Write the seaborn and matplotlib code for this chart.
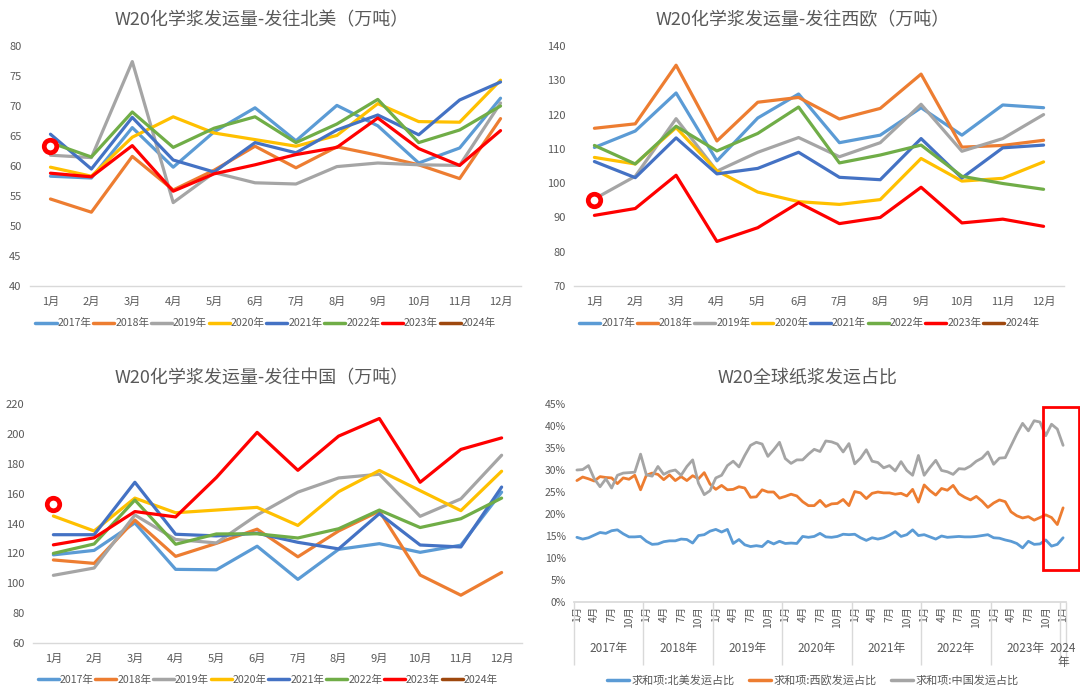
import pandas as pd
import matplotlib
matplotlib.use("Agg")
import matplotlib.pyplot as plt
import matplotlib.transforms as mtransforms
from matplotlib.lines import Line2D
from matplotlib.patches import Rectangle
from matplotlib.ticker import PercentFormatter, MultipleLocator
import seaborn as sns

# ==========================================
# Data
# ==========================================
months = ["1月", "2月", "3月", "4月", "5月", "6月",
          "7月", "8月", "9月", "10月", "11月", "12月"]
years = ["2017年", "2018年", "2019年", "2020年",
         "2021年", "2022年", "2023年", "2024年"]
year_colors = ["#5B9BD5", "#ED7D31", "#A5A5A5", "#FFC000",
               "#4472C4", "#70AD47", "#FF0000", "#9E480E"]

# 发往北美 (万吨), 2017 .. 2023
north_america = [
    [58.3, 58.0, 66.4, 59.8, 65.7, 69.7, 64.2, 70.1, 66.7, 60.5, 63.0, 71.3],
    [54.5, 52.3, 61.6, 56.0, 59.3, 63.3, 59.7, 63.2, 61.8, 60.2, 57.9, 67.9],
    [61.8, 61.4, 77.4, 53.9, 58.9, 57.2, 57.0, 59.9, 60.5, 60.2, 60.1, 70.5],
    [59.8, 58.3, 64.8, 68.2, 65.5, 64.4, 63.3, 65.1, 70.4, 67.4, 67.3, 74.3],
    [65.3, 59.5, 68.1, 61.0, 59.0, 63.9, 62.2, 66.0, 68.5, 65.2, 71.0, 74.0],
    [63.9, 61.5, 69.0, 63.1, 66.3, 68.2, 63.9, 67.0, 71.1, 63.9, 66.0, 70.0],
    [58.8, 58.2, 63.4, 55.8, 58.7, 60.2, 61.9, 63.1, 68.0, 62.9, 60.1, 65.9],
]
north_america_2024 = [63.4]

# 发往西欧 (万吨)
west_europe = [
    [110.4, 115.2, 126.3, 106.5, 119.0, 126.0, 111.8, 114.0, 122.0, 114.0, 122.8, 122.0],
    [116.0, 117.3, 134.4, 112.3, 123.6, 125.0, 118.7, 121.8, 131.8, 110.5, 111.0, 112.5],
    [95.4, 102.0, 118.8, 103.5, 109.0, 113.3, 107.7, 111.8, 123.0, 109.3, 113.0, 120.0],
    [107.5, 105.6, 116.2, 103.6, 97.4, 94.6, 93.8, 95.2, 107.2, 100.6, 101.4, 106.2],
    [106.3, 101.6, 113.2, 102.7, 104.3, 109.0, 101.7, 101.0, 113.0, 101.5, 110.3, 111.1],
    [111.0, 105.6, 116.6, 109.4, 114.5, 122.2, 105.9, 108.2, 111.1, 102.0, 99.9, 98.2],
    [90.6, 92.6, 102.3, 83.0, 87.0, 94.3, 88.2, 90.0, 98.8, 88.4, 89.5, 87.4],
]
west_europe_2024 = [95.0]

# 发往中国 (万吨)
china = [
    [119.0, 122.0, 140.4, 109.3, 109.0, 124.8, 102.6, 122.7, 126.5, 120.7, 125.5, 161.0],
    [115.6, 113.3, 142.3, 118.0, 126.7, 136.2, 117.7, 135.0, 148.3, 105.5, 92.0, 107.2],
    [105.3, 110.2, 145.7, 129.3, 127.0, 145.7, 161.0, 170.5, 173.0, 144.8, 156.5, 185.7],
    [145.0, 135.0, 157.0, 147.2, 149.0, 150.8, 138.7, 161.3, 175.5, 162.0, 148.6, 175.0],
    [132.5, 132.5, 167.6, 132.8, 131.7, 133.5, 127.4, 123.0, 146.6, 125.6, 124.3, 164.4],
    [120.0, 126.3, 155.7, 126.1, 133.0, 133.1, 130.3, 136.5, 149.0, 137.3, 143.2, 157.0],
    [125.7, 130.4, 148.0, 144.4, 170.8, 201.0, 175.6, 198.5, 210.3, 167.6, 189.6, 197.3],
]
china_2024 = [153.0]

# W20全球纸浆发运占比 (%), 2017-01 .. 2024-01
share_na = [
    14.7, 14.3, 14.6, 15.2, 15.8, 15.6, 16.2, 16.4, 15.5, 14.8, 14.8, 14.9,
    13.8, 13.1, 13.2, 13.7, 13.9, 13.9, 14.3, 14.2, 13.4, 15.1, 15.3, 16.1,
    16.5, 15.9, 16.5, 13.3, 14.2, 13.0, 12.6, 12.8, 12.6, 13.8, 13.2, 13.8,
    13.3, 13.4, 13.3, 14.9, 14.7, 14.9, 15.6, 14.8, 14.7, 14.9, 15.4, 15.3,
    15.4, 14.6, 14.0, 14.6, 14.3, 14.6, 15.2, 16.0, 14.9, 15.3, 16.4, 15.1,
    15.3, 14.8, 14.3, 15.0, 14.7, 14.8, 14.9, 14.8, 14.8, 14.9, 15.1, 15.3,
    14.6, 14.5, 14.1, 13.8, 13.3, 12.3, 13.8, 13.1, 13.2, 14.1, 12.7, 13.1,
    14.6,
]
share_weu = [
    27.6, 28.4, 28.0, 27.5, 28.5, 28.3, 28.2, 26.9, 28.2, 27.9, 28.8, 25.5,
    28.8, 29.3, 29.0, 27.8, 28.9, 27.6, 28.5, 27.6, 28.7, 28.0, 29.4, 26.8,
    25.6, 26.5, 25.5, 25.6, 26.2, 25.9, 23.8, 23.9, 25.5, 25.0, 25.0, 23.6,
    24.0, 24.5, 24.1, 22.8, 21.9, 21.9, 23.1, 21.7, 22.3, 22.4, 23.3, 21.9,
    25.1, 24.8, 23.5, 24.7, 25.0, 24.8, 24.8, 24.5, 24.7, 24.1, 25.6, 22.7,
    26.6, 25.3, 24.3, 25.8, 25.4, 26.5, 24.6, 23.8, 23.2, 24.0, 22.9, 21.5,
    22.5, 23.2, 22.8, 20.5, 19.6, 19.1, 19.4, 18.6, 19.2, 19.8, 19.2, 17.6,
    21.4,
]
share_cn = [
    30.0, 30.1, 31.0, 28.0, 26.2, 28.0, 25.9, 28.8, 29.3, 29.4, 29.5, 33.6,
    28.9, 28.6, 30.8, 29.0, 29.7, 30.0, 28.8, 30.8, 32.3, 27.0, 24.4, 25.3,
    28.2, 28.8, 31.0, 32.0, 30.7, 33.3, 35.6, 36.3, 35.9, 33.1, 34.6, 36.3,
    32.6, 31.5, 32.3, 32.3, 33.6, 34.7, 34.2, 36.6, 36.4, 35.9, 34.1, 36.0,
    31.4, 32.7, 34.6, 32.0, 31.7, 30.5, 31.0, 29.8, 31.9, 29.9, 28.8, 33.3,
    28.8, 30.6, 32.2, 29.9, 29.6, 29.0, 30.3, 30.2, 30.9, 32.0, 32.7, 34.1,
    31.3, 32.7, 32.8, 35.5, 38.2, 40.6, 38.9, 41.2, 40.9, 37.8, 40.4, 39.3,
    35.6,
]
share_names = ["求和项:北美发运占比", "求和项:西欧发运占比", "求和项:中国发运占比"]
share_colors = ["#5B9BD5", "#ED7D31", "#A5A5A5"]

# ==========================================
# Style
# ==========================================
sns.set_theme(style="white")
plt.rcParams["font.family"] = ["Noto Sans CJK SC", "DejaVu Sans"]
plt.rcParams["axes.unicode_minus"] = False

TEXT = "#595959"
AXIS = "#D9D9D9"

fig = plt.figure(figsize=(10.8, 6.98), dpi=100)


def month_panel(rect, title, center_x, title_y, series, first_2024, ylim, ystep):
    ax = fig.add_axes(rect)

    rows = []
    for year, vals in zip(years, series + [first_2024]):
        for m, v in enumerate(vals):
            rows.append({"month": m, "value": v, "year": year})
    df = pd.DataFrame(rows)

    lines = df[df["year"] != years[-1]]
    sns.lineplot(
        data=lines, x="month", y="value", hue="year",
        hue_order=years[:-1], palette=year_colors[:-1],
        linewidth=2.3, legend=False, ax=ax
    )

    # 2024 only has January -> drawn as a red ring
    first = df[df["year"] == years[-1]]
    ax.plot(first["month"], first["value"], ls="none", marker="o",
            ms=9, mfc="white", mec="#FF0000", mew=3.4, zorder=5)

    ax.set_xlim(-0.5, len(months) - 0.5)
    ax.set_ylim(*ylim)
    ax.yaxis.set_major_locator(MultipleLocator(ystep))
    ax.set_xticks(range(len(months)))
    ax.set_xticklabels(months)
    ax.set_xlabel("")
    ax.set_ylabel("")
    ax.tick_params(axis="both", length=0, labelsize=8, colors=TEXT)
    ax.tick_params(axis="x", pad=8)
    ax.tick_params(axis="y", pad=6)

    for side in ["left", "right", "top"]:
        ax.spines[side].set_visible(False)
    ax.spines["bottom"].set_color(AXIS)
    ax.spines["bottom"].set_linewidth(1)

    handles = [Line2D([], [], color=c, lw=2.5) for c in year_colors]
    ax.legend(
        handles, years, loc="center", bbox_to_anchor=(0.48, -0.155),
        ncol=8, frameon=False, fontsize=7.6, handlelength=2.0,
        handletextpad=0.1, columnspacing=0.15, labelcolor=TEXT
    )

    fig.text(center_x, title_y, title, ha="center", va="center",
             fontsize=13, color=TEXT)
    return ax


month_panel([30 / 1080, 1 - 286 / 698, 491 / 1080, 240 / 698],
            "W20化学浆发运量-发往北美（万吨）", 262 / 1080, 1 - 20 / 698,
            north_america, north_america_2024, (40, 80), 5)

month_panel([574 / 1080, 1 - 286 / 698, 490 / 1080, 240 / 698],
            "W20化学浆发运量-发往西欧（万吨）", 803 / 1080, 1 - 20 / 698,
            west_europe, west_europe_2024, (70, 140), 10)

month_panel([33 / 1080, 1 - 643 / 698, 489 / 1080, 239 / 698],
            "W20化学浆发运量-发往中国（万吨）", 262 / 1080, 1 - 378 / 698,
            china, china_2024, (60, 220), 20)

# ==========================================
# Share panel
# ==========================================
ax = fig.add_axes([574 / 1080, 1 - 602 / 698, 492 / 1080, 198 / 698])

periods = pd.period_range("2017-01", periods=len(share_na), freq="M")
share = pd.DataFrame({
    "idx": list(range(len(periods))) * 3,
    "value": share_na + share_weu + share_cn,
    "name": [share_names[0]] * len(periods)
    + [share_names[1]] * len(periods)
    + [share_names[2]] * len(periods),
})

sns.lineplot(
    data=share, x="idx", y="value", hue="name",
    hue_order=share_names, palette=share_colors,
    linewidth=2.0, legend=False, ax=ax
)

ax.set_xlim(-0.5, len(periods) - 0.5)
ax.set_ylim(0, 45)
ax.yaxis.set_major_locator(MultipleLocator(5))
ax.yaxis.set_major_formatter(PercentFormatter(decimals=0))
ax.set_xlabel("")
ax.set_ylabel("")

tick_idx = [i for i, p in enumerate(periods) if p.month in (1, 4, 7, 10)]
ax.set_xticks(tick_idx)
ax.set_xticklabels([f"{periods[i].month}月" for i in tick_idx],
                   rotation=90, va="top", ha="center")
ax.tick_params(axis="both", length=0, labelsize=7.5, colors=TEXT)
ax.tick_params(axis="x", pad=3)
ax.tick_params(axis="y", pad=6)

for side in ["left", "right", "top"]:
    ax.spines[side].set_visible(False)
ax.spines["bottom"].set_color(AXIS)

# year group labels and dividers
trans = mtransforms.blended_transform_factory(ax.transData, ax.transAxes)
year_list = sorted(set(p.year for p in periods))
bounds = []
for y in year_list:
    idx = [i for i, p in enumerate(periods) if p.year == y]
    bounds.append(idx[0] - 0.5)
    label = f"{y}年" if len(idx) > 1 else f"{y}\n年"
    ax.text(sum(idx) / len(idx), -0.2, label, transform=trans,
            ha="center", va="top", fontsize=8.5, color=TEXT,
            linespacing=1.1)
bounds.append(len(periods) - 0.5)
ax.vlines(bounds, -0.32, 0, transform=trans, colors=AXIS,
          lw=1, clip_on=False)

handles = [Line2D([], [], color=c, lw=2.5) for c in share_colors]
ax.legend(
    handles, share_names, loc="center", bbox_to_anchor=(0.485, -0.395),
    ncol=3, frameon=False, fontsize=8, handlelength=2.0,
    handletextpad=0.2, columnspacing=1.3, labelcolor=TEXT
)

# highlight of the latest months
ax.add_patch(Rectangle((80.5, 7.3), 6.3, 37.0, fill=False,
                       ec="#FF0000", lw=2, clip_on=False, zorder=6))

fig.text(807 / 1080, 1 - 378 / 698, "W20全球纸浆发运占比",
         ha="center", va="center", fontsize=13, color=TEXT)

fig.savefig("out.png", dpi=100)
plt.close(fig)
